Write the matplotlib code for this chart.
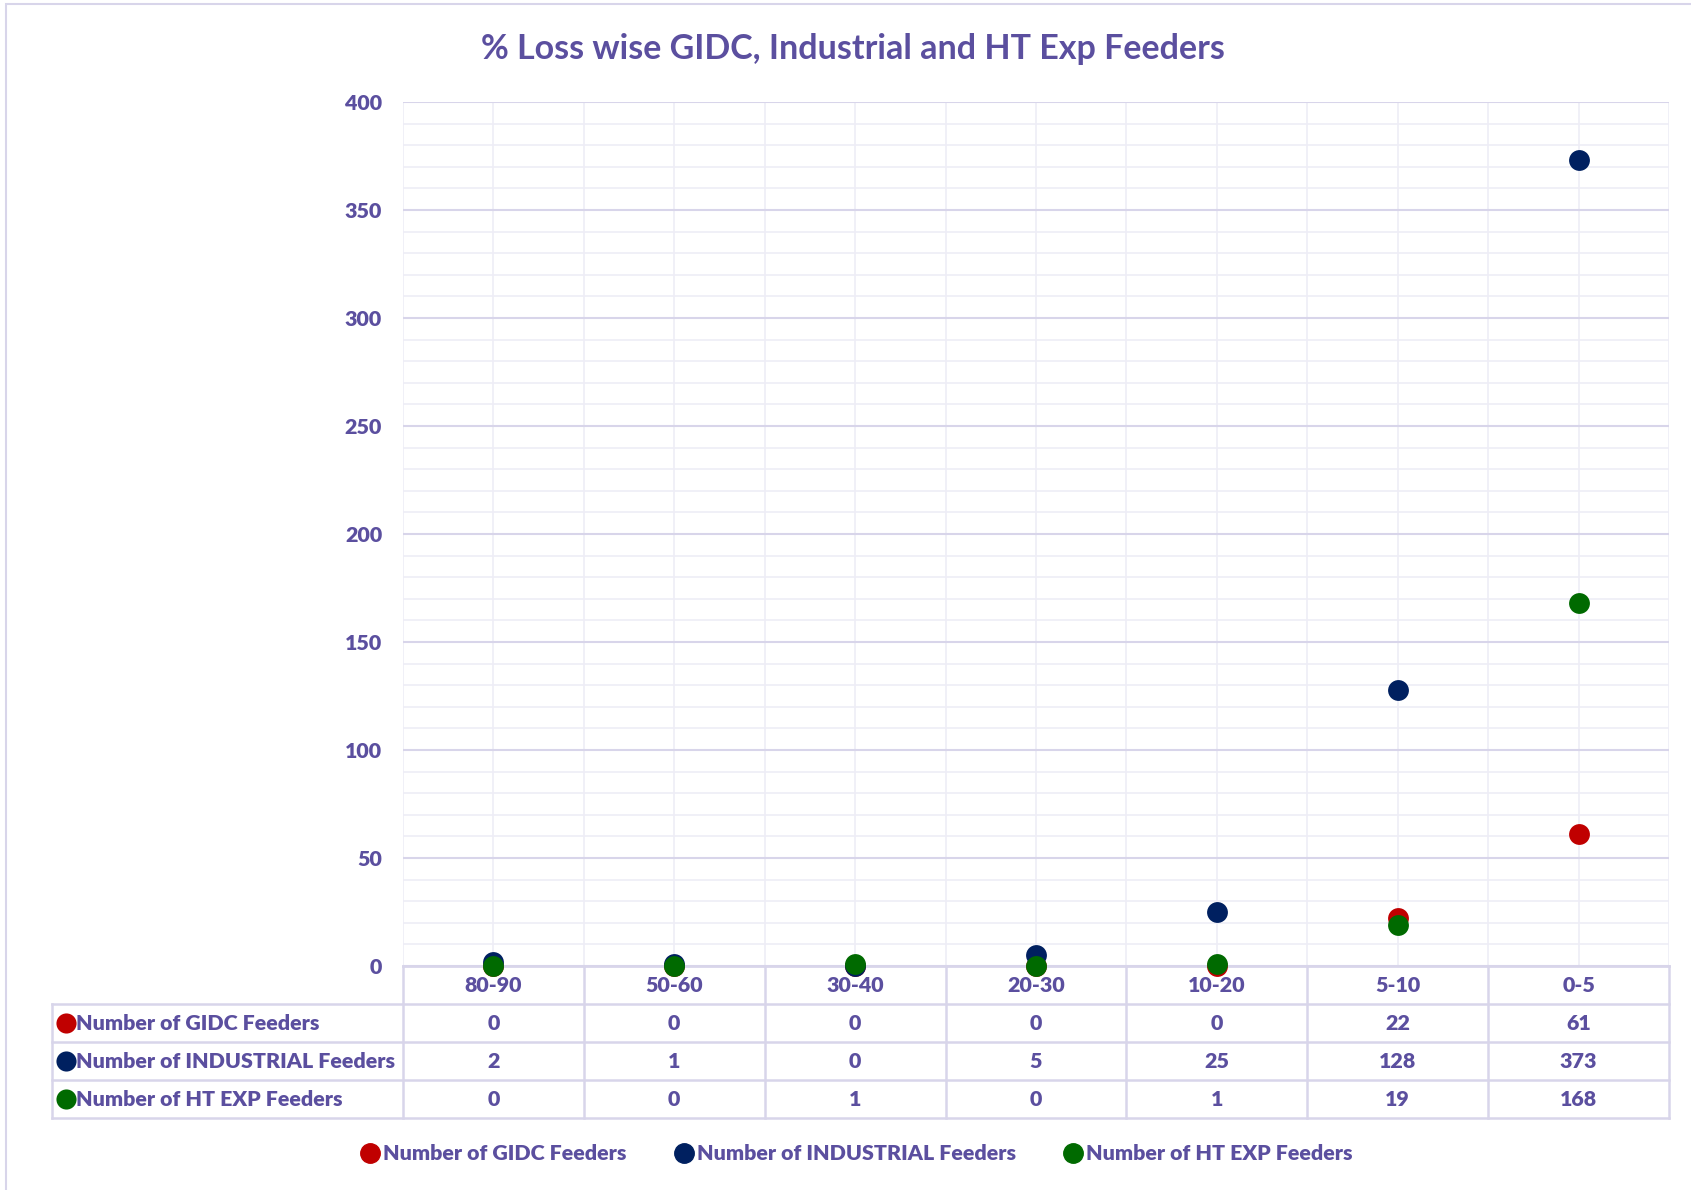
import matplotlib
matplotlib.use("Agg")
import matplotlib.pyplot as plt
from matplotlib.patches import Rectangle
from matplotlib.lines import Line2D
from matplotlib import font_manager

# data
categories = ["80-90", "50-60", "30-40", "20-30", "10-20", "5-10", "0-5"]
series_names = ["Number of GIDC Feeders", "Number of INDUSTRIAL Feeders", "Number of HT EXP Feeders"]
gidc = [0, 0, 0, 0, 0, 22, 61]
industrial = [2, 1, 0, 5, 25, 128, 373]
ht_exp = [0, 0, 1, 0, 1, 19, 168]
y_ticks = [0, 50, 100, 150, 200, 250, 300, 350, 400]

TXT = "#5B4F9F"
COLORS = ["#C00000", "#002060", "#006A00"]
GRID_MAJ = "#D8D5EA"
GRID_MIN = "#EEEDF6"
FS = 15.4
WT = "heavy"

installed = {f.name for f in font_manager.fontManager.ttflist}
fam = [f for f in ["Liberation Sans Narrow", "Lato", "DejaVu Sans"] if f in installed]
plt.rcParams["font.family"] = fam
plt.rcParams["font.weight"] = WT

W, H = 1691, 1190
fig = plt.figure(figsize=(W / 100, H / 100), dpi=100)


def px(x0, y0, x1, y1):
    # pixel box (top-left origin) -> figure fraction rect
    return [x0 / W, 1 - y1 / H, (x1 - x0) / W, (y1 - y0) / H]


# outer chart border
fig.patches.append(Rectangle((6 / W, -0.01), 1.1, 1 - 4 / H + 0.01, transform=fig.transFigure,
                             fill=False, ec="#D8D5EA", lw=1.5))

L, R, T, B = 403, 1669, 102, 966
ax = fig.add_axes(px(L, T, R, B))
n = len(categories)
xs = list(range(n))
ax.set_xlim(-0.5, n - 0.5)
ax.set_ylim(0, 400)
ax.set_yticks(y_ticks)
ax.set_yticks(range(0, 401, 10), minor=True)
ax.set_xticks([i - 0.5 for i in range(n + 1)])
ax.set_xticks(xs, minor=True)
ax.grid(True, which="major", axis="y", color=GRID_MAJ, lw=1.5, zorder=0)
ax.grid(True, which="minor", axis="y", color=GRID_MIN, lw=1.2, zorder=0)
ax.grid(True, which="both", axis="x", color=GRID_MIN, lw=1.2, zorder=0)
ax.tick_params(axis="both", which="both", length=0)
ax.tick_params(axis="y", labelsize=FS, labelcolor=TXT, pad=15)
ax.set_xticklabels([])
for t in ax.get_yticklabels():
    t.set_fontweight(WT)
for s in ["top", "right", "left"]:
    ax.spines[s].set_visible(False)
ax.spines["bottom"].set_color(GRID_MAJ)
ax.spines["bottom"].set_linewidth(2)

for vals, c in zip([gidc, industrial, ht_exp], COLORS):
    ax.scatter(xs, vals, s=225, color=c, zorder=3, clip_on=False, linewidths=0)

fig.text(853 / W, 1 - 49 / H, "% Loss wise GIDC, Industrial and HT Exp Feeders",
         ha="center", va="center", fontsize=24.5, color=TXT, fontweight="bold")

# data table under the axis
TL = 52
tab = fig.add_axes(px(TL, B, R, 1118))
lab_w = (L - TL) / ((R - L) / n)
tab.set_xlim(-0.5 - lab_w, n - 0.5)
tab.set_ylim(4, 0)
tab.axis("off")
lc = dict(color=GRID_MAJ, lw=1.8, clip_on=False)
for yv in [1, 2, 3, 4]:
    tab.plot([-0.5 - lab_w, n - 0.5], [yv, yv], **lc)
for i in range(n + 1):
    tab.plot([i - 0.5, i - 0.5], [0, 4], **lc)
tab.plot([-0.5 - lab_w] * 2, [1, 4], **lc)
for i, cat in enumerate(categories):
    tab.text(i, 0.5, cat, ha="center", va="center", fontsize=FS, color=TXT, fontweight=WT)
for r, (name, vals, c) in enumerate(zip(series_names, [gidc, industrial, ht_exp], COLORS)):
    yv = r + 1.5
    tab.scatter([-0.5 - lab_w + 0.075], [yv], s=210, color=c, clip_on=False, linewidths=0)
    tab.text(-0.5 - lab_w + 0.135, yv, name, ha="left", va="center", fontsize=FS,
             color=TXT, fontweight=WT)
    for i, v in enumerate(vals):
        tab.text(i, yv, str(v), ha="center", va="center", fontsize=FS, color=TXT,
                 fontweight=WT)

handles = [Line2D([], [], ls="", marker="o", ms=14, color=c, mec=c) for c in COLORS]
fig.legend(handles, series_names, loc="center", bbox_to_anchor=(856 / W, 1 - 1154 / H),
           ncol=3, frameon=False, handletextpad=0.1, columnspacing=2.2,
           handlelength=1.0, prop={"size": FS, "weight": WT}, labelcolor=TXT)

fig.savefig("out.png", dpi=100)
